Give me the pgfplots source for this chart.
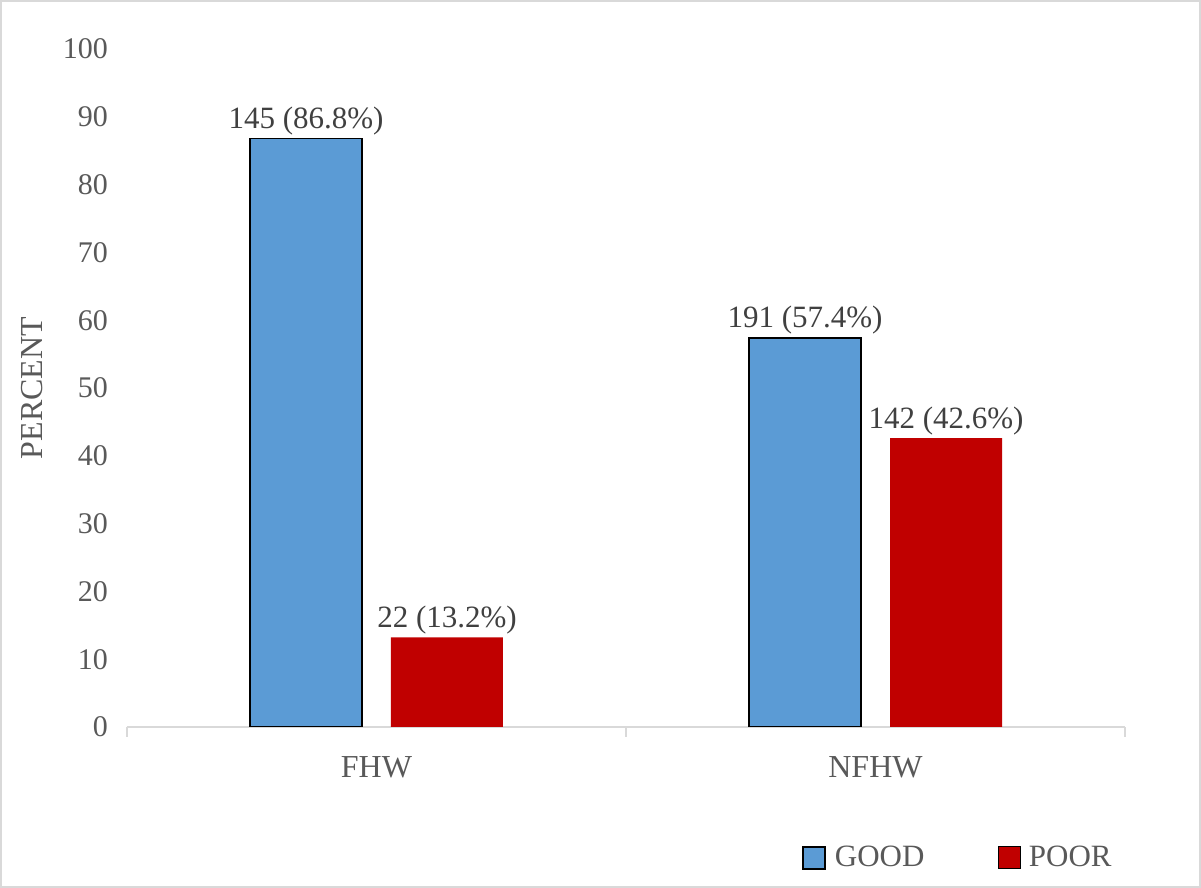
\documentclass[border=0pt]{standalone}
\usepackage{fontspec}
\setmainfont{Liberation Serif}
\usepackage{pgfplots}
\usepackage{pgfplotstable}
\pgfplotsset{compat=1.18}
\definecolor{barblue}{HTML}{5B9BD5}
\definecolor{barred}{HTML}{C00000}
\definecolor{ticktxt}{HTML}{595959}
\definecolor{labtxt}{HTML}{404040}
\definecolor{framegray}{HTML}{D9D9D9}
\pgfplotstableread{
x y lab
0 86.8 {145 (86.8\%)}
1 57.4 {191 (57.4\%)}
}\good
\pgfplotstableread{
x y lab
0 13.2 {22 (13.2\%)}
1 42.6 {142 (42.6\%)}
}\poor
\begin{document}
\begin{tikzpicture}
\draw[framegray, line width=1pt] (0.5pt,0.5pt) rectangle (600pt,443.5pt);
\begin{axis}[
  at={(63.5pt,80.5pt)}, anchor=south west,
  scale only axis, width=499pt, height=339pt,
  xmin=-0.5, xmax=1.5, ymin=0, ymax=100,
  axis x line*=bottom, axis y line*=left,
  x axis line style={draw=framegray, line width=1pt, -},
  y axis line style={draw=none},
  ytick={0,10,...,100},
  major y tick style={draw=none},
  yticklabel style={anchor=east, xshift=-6pt, text=ticktxt, font=\fontsize{15pt}{18pt}\selectfont},
  /pgf/number format/assume math mode=true,
  xtick={0,1}, xticklabels={FHW,NFHW},
  major x tick style={draw=none},
  xticklabel style={anchor=base, yshift=-21pt, text=ticktxt, font=\fontsize{16pt}{19pt}\selectfont},
  extra x ticks={-0.5,0.5,1.5}, extra x tick labels={},
  extra x tick style={major tick length=5pt, tick align=outside, major x tick style={draw=framegray, line width=1pt}},
  ylabel={PERCENT},
  every axis y label/.style={at={(axis description cs:-0.0952,0.5)}, rotate=90, anchor=center, text=ticktxt, font=\fontsize{16pt}{19pt}\selectfont},
  ybar, bar width=56pt,
  nodes near coords, point meta=explicit symbolic,
  every node near coord/.append style={anchor=south, inner sep=1.5pt, text=labtxt, font=\fontsize{15.5pt}{18pt}\selectfont},
  legend columns=2,
  legend style={at={(axis description cs:0.8337,-0.193)}, anchor=center, draw=none, fill=none,
    font=\fontsize{15.5pt}{18pt}\selectfont, text=ticktxt,
    /tikz/every even column/.append style={column sep=34.5pt}},
  legend image code/.code={\draw[#1] (0pt,-5.5pt) rectangle (11pt,5.5pt); \path (13.5pt,0pt);},
]
\addplot[fill=barblue, draw=black, line width=0.75pt, bar shift=-35.25pt] table[x=x, y=y, meta=lab] {\good};
\addlegendentry{GOOD}
\addplot[fill=barred, draw=none, bar shift=35.25pt] table[x=x, y=y, meta=lab] {\poor};
\addlegendentry{POOR}
\end{axis}
\end{tikzpicture}
\end{document}
